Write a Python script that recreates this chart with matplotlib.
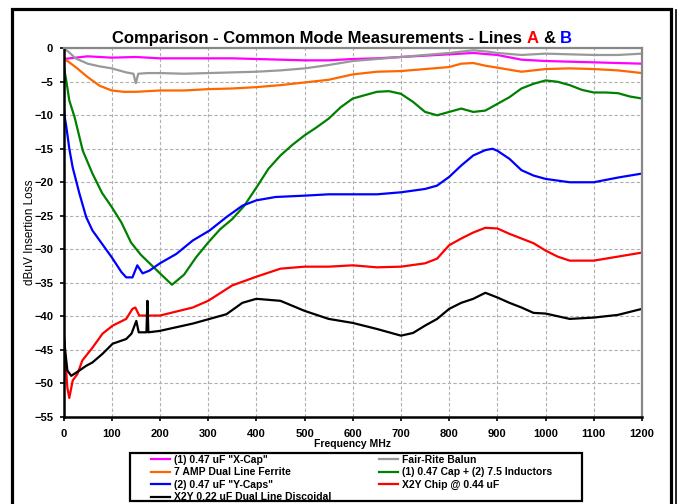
import matplotlib
matplotlib.use('Agg')
import matplotlib.pyplot as plt
from matplotlib.patches import Rectangle
from matplotlib.lines import Line2D

plt.rcParams['font.family'] = ['Liberation Sans', 'DejaVu Sans']

# readings, frequency in MHz, loss in dBuV
f_xcap = [0, 25, 50, 100, 150, 200, 250, 300, 350, 400, 450, 500, 550, 600, 650, 700, 750, 800, 850, 900, 950, 1000, 1050, 1100, 1150, 1200]
v_xcap = [-1.6, -1.4, -1.2, -1.4, -1.3, -1.5, -1.5, -1.5, -1.5, -1.6, -1.7, -1.8, -1.8, -1.6, -1.5, -1.3, -1.1, -0.9, -0.7, -1.0, -1.7, -1.9, -2.0, -2.1, -2.2, -2.3]

f_balun = [0, 10, 25, 50, 75, 100, 130, 145, 150, 155, 175, 200, 250, 300, 350, 400, 450, 500, 550, 600, 650, 700, 750, 800, 850, 880, 900, 950, 1000, 1050, 1100, 1150, 1200]
v_balun = [0, -0.5, -1.5, -2.3, -2.7, -3.0, -3.6, -3.8, -5.2, -3.8, -3.7, -3.7, -3.8, -3.7, -3.6, -3.5, -3.3, -3.0, -2.5, -1.9, -1.6, -1.3, -1.0, -0.7, -0.3, -0.5, -0.7, -1.0, -0.8, -0.9, -1.0, -1.0, -0.8]

f_ferrite = [0, 10, 25, 50, 75, 100, 125, 150, 200, 250, 300, 350, 400, 450, 500, 550, 600, 650, 700, 750, 800, 825, 850, 875, 900, 950, 1000, 1050, 1100, 1150, 1200]
v_ferrite = [-1.5, -2.0, -2.8, -4.3, -5.6, -6.3, -6.5, -6.5, -6.3, -6.3, -6.1, -6.0, -5.8, -5.5, -5.1, -4.7, -3.9, -3.5, -3.4, -3.1, -2.8, -2.3, -2.2, -2.6, -2.9, -3.5, -3.1, -3.0, -3.1, -3.3, -3.7]

f_inductor = [0, 5, 12, 23, 40, 60, 80, 100, 120, 140, 160, 180, 200, 225, 250, 275, 300, 325, 350, 375, 400, 425, 450, 475, 500, 525, 550, 575, 600, 625, 650, 675, 700, 725, 750, 775, 800, 825, 850, 875, 900, 925, 950, 975, 1000, 1025, 1050, 1075, 1100, 1125, 1150, 1175, 1200]
v_inductor = [-2.5, -4.5, -7.8, -10.3, -15.3, -18.7, -21.6, -23.7, -26.0, -29.0, -30.8, -32.2, -33.6, -35.3, -33.8, -31.2, -29.0, -27.0, -25.5, -23.5, -20.8, -18.0, -16.0, -14.4, -13.0, -11.8, -10.5, -8.8, -7.5, -7.0, -6.5, -6.4, -6.8, -8.0, -9.5, -10.0, -9.5, -9.0, -9.5, -9.3, -8.3, -7.3, -6.0, -5.3, -4.8, -5.0, -5.5, -6.2, -6.6, -6.6, -6.7, -7.2, -7.5]

f_ycaps = [0, 3, 6, 12, 19, 33, 47, 60, 80, 100, 120, 130, 143, 153, 164, 178, 200, 234, 268, 303, 338, 371, 400, 440, 500, 550, 600, 650, 700, 750, 775, 800, 825, 850, 875, 890, 900, 925, 950, 975, 1000, 1050, 1100, 1150, 1200]
v_ycaps = [-8.5, -10.5, -11.8, -15.0, -17.8, -21.7, -25.2, -27.2, -29.2, -31.2, -33.4, -34.2, -34.2, -32.4, -33.6, -33.2, -32.1, -30.7, -28.7, -27.2, -25.2, -23.5, -22.7, -22.2, -22.0, -21.8, -21.8, -21.8, -21.5, -21.0, -20.5, -19.2, -17.5, -16.0, -15.2, -15.0, -15.3, -16.5, -18.2, -19.0, -19.5, -20.0, -20.0, -19.3, -18.7]

f_chip = [0, 4, 8, 12, 19, 29, 39, 60, 81, 102, 130, 143, 149, 157, 175, 200, 268, 300, 350, 400, 450, 500, 550, 600, 650, 700, 750, 775, 800, 825, 850, 875, 900, 925, 950, 975, 1000, 1025, 1050, 1100, 1150, 1200]
v_chip = [-42.2, -46.6, -50.7, -52.2, -49.6, -48.6, -46.6, -44.7, -42.6, -41.4, -40.4, -38.9, -38.7, -39.9, -39.9, -39.9, -38.7, -37.7, -35.4, -34.1, -32.9, -32.6, -32.6, -32.4, -32.7, -32.6, -32.1, -31.4, -29.4, -28.4, -27.5, -26.8, -26.9, -27.7, -28.4, -29.1, -30.2, -31.1, -31.7, -31.7, -31.1, -30.5]

f_disc = [0, 4, 8, 16, 33, 47, 60, 81, 102, 130, 141, 151, 156, 162, 172, 174, 176, 199, 268, 338, 371, 400, 450, 500, 550, 600, 650, 700, 725, 750, 775, 800, 825, 850, 875, 900, 925, 950, 975, 1000, 1050, 1100, 1150, 1200]
v_disc = [-42.4, -45.5, -48.1, -48.9, -48.1, -47.4, -46.9, -45.6, -44.1, -43.4, -42.6, -40.7, -42.4, -42.4, -42.4, -37.7, -42.4, -42.2, -41.1, -39.7, -38.0, -37.4, -37.7, -39.2, -40.4, -41.0, -41.9, -42.9, -42.5, -41.4, -40.4, -38.9, -38.0, -37.4, -36.5, -37.2, -38.0, -38.7, -39.5, -39.6, -40.4, -40.2, -39.8, -38.9]

fig = plt.figure(figsize=(6.78, 5.04), dpi=100)
ax = fig.add_axes([0.0937, 0.1732, 0.8532, 0.7310])

lw = 1.6
l1, = ax.plot(f_xcap, v_xcap, color='#FF00FF', lw=lw, label='(1) 0.47 uF "X-Cap"')
l5, = ax.plot(f_balun, v_balun, color='#999999', lw=lw, label='Fair-Rite Balun')
l2, = ax.plot(f_ferrite, v_ferrite, color='#FF6600', lw=lw, label='7 AMP Dual Line Ferrite')
l6, = ax.plot(f_inductor, v_inductor, color='#008000', lw=lw, label='(1) 0.47 Cap + (2) 7.5 Inductors')
l3, = ax.plot(f_ycaps, v_ycaps, color='#0000FF', lw=lw, label='(2) 0.47 uF "Y-Caps"')
l7, = ax.plot(f_chip, v_chip, color='#FF0000', lw=lw, label='X2Y Chip @ 0.44 uF')
l4, = ax.plot(f_disc, v_disc, color='black', lw=lw, label='X2Y 0.22 uF Dual Line Discoidal')

ax.set_xlim(0, 1200)
ax.set_ylim(-55, 0)
ax.set_xticks(range(0, 1201, 100))
ax.set_yticks(range(-55, 1, 5))
ax.grid(True, color='#B0B0B0', lw=0.8, linestyle=(0, (3, 2)))
ax.set_axisbelow(True)
ax.tick_params(labelsize=8, length=3, width=1.2)
ax.tick_params(axis='x', pad=6)
ax.tick_params(axis='y', pad=4.5)
for lab in ax.get_xticklabels() + ax.get_yticklabels():
    lab.set_fontweight('bold')

for s in ['left', 'bottom']:
    ax.spines[s].set_linewidth(1.8)
    ax.spines[s].set_color('black')
for s in ['top', 'right']:
    ax.spines[s].set_linewidth(1.6)
    ax.spines[s].set_color('#888888')

ax.set_xlabel('Frequency MHz', fontsize=7.5, fontweight='bold', labelpad=0)
ax.set_ylabel('dBuV Insertion Loss', fontsize=8.5, labelpad=-1)

# title with coloured line letters
t1 = fig.text(0.1652, 0.9246, 'Comparison - Common Mode Measurements - Lines',
              fontsize=12, fontweight='bold', va='center')
t2 = ax.annotate('A', xy=(1, 0), xycoords=t1, xytext=(3.3, 0), textcoords='offset points',
                 va='bottom', fontsize=12, fontweight='bold', color='red')
t3 = ax.annotate('&', xy=(1, 0), xycoords=t2, xytext=(3.3, 0), textcoords='offset points',
                 va='bottom', fontsize=12, fontweight='bold', color='black')
t4 = ax.annotate('B', xy=(1, 0), xycoords=t3, xytext=(3.3, 0), textcoords='offset points',
                 va='bottom', fontsize=12, fontweight='bold', color='blue')

# legend
fig.legend(handles=[l1, l2, l3, l4, l5, l6, l7], ncol=2, loc='upper left',
           bbox_to_anchor=(0.2227, 0.0975), frameon=False, borderpad=0, borderaxespad=0,
           prop={'size': 7.5, 'weight': 'bold'}, handlelength=1.83, handletextpad=0.38,
           labelspacing=0.24, columnspacing=4.6)
fig.add_artist(Rectangle((0.1917, 0.005), 0.6667, 0.0955, transform=fig.transFigure,
                         fill=False, edgecolor='black', lw=1.6))

# outer frame
fig.add_artist(Rectangle((0.017, -0.05), 0.9734, 1.033, transform=fig.transFigure,
                         fill=False, edgecolor='black', lw=2.3))
fig.add_artist(Line2D([0.997, 0.997], [0.98, 0.0], transform=fig.transFigure, color='black', lw=1.2))

plt.savefig('out.png', dpi=100)
